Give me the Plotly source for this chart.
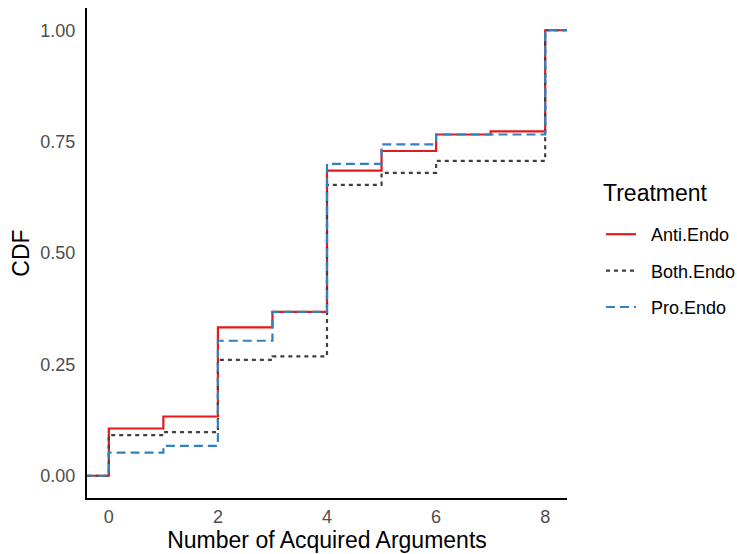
import plotly.graph_objects as go

# Empirical CDF of the number of acquired arguments, per treatment
arguments = [0, 1, 2, 3, 4, 5, 6, 7, 8]
treatments = ["Anti.Endo", "Both.Endo", "Pro.Endo"]
anti_endo = [0.106, 0.133, 0.333, 0.368, 0.685, 0.729, 0.766, 0.773, 1.0]
both_endo = [0.091, 0.098, 0.260, 0.268, 0.653, 0.680, 0.707, 0.707, 1.0]
pro_endo = [0.052, 0.067, 0.303, 0.368, 0.700, 0.744, 0.766, 0.766, 1.0]
y_ticks = [0.0, 0.25, 0.5, 0.75, 1.0]
x_ticks = [0, 2, 4, 6, 8]

series = {"Anti.Endo": anti_endo, "Both.Endo": both_endo, "Pro.Endo": pro_endo}
styles = {
    "Anti.Endo": dict(color="#E41A1C", dash="solid"),
    "Both.Endo": dict(color="#404040", dash="4px,4px"),
    "Pro.Endo": dict(color="#3182BD", dash="9px,5px"),
}

FONT = "Liberation Sans, Arial, Helvetica, sans-serif"
PAD = "\u00a0\u00a0"  # small gap between legend key and label

fig = go.Figure()
for name in treatments:
    vals = series[name]
    # pad the step function below the first and beyond the last value
    xs = [arguments[0] - 2] + arguments + [arguments[-1] + 2]
    ys = [0.0] + vals + [1.0]
    fig.add_trace(go.Scatter(
        x=xs, y=ys, name=PAD + name, mode="lines", line_shape="hv",
        legendgroup=name,
        line=dict(color=styles[name]["color"], dash=styles[name]["dash"], width=2.2),
    ))

fig.update_layout(
    width=737, height=554,
    margin=dict(l=87, r=170, t=8, b=56, autoexpand=False),
    paper_bgcolor="white", plot_bgcolor="white",
    font=dict(family=FONT, size=18, color="#4D4D4D"),
    showlegend=True,
    legend=dict(
        font=dict(size=18, color="black", family=FONT),
        x=1.0708, xanchor="left", y=0.5755, yanchor="top",
        tracegroupgap=10, bgcolor="rgba(0,0,0,0)", borderwidth=0,
    ),
    annotations=[dict(
        text="Treatment", xref="paper", yref="paper", x=1.0708, y=0.6224,
        xanchor="left", yanchor="middle", showarrow=False,
        font=dict(size=23, color="black", family=FONT),
    )],
)

fig.update_xaxes(
    range=[-0.4, 8.4], tickvals=x_ticks, ticks="", ticklen=0, showgrid=False,
    zeroline=False, showline=True, linecolor="black", linewidth=2,
    tickfont=dict(size=18, color="#4D4D4D"), ticklabelstandoff=1,
    title=dict(text="Number of Acquired Arguments", font=dict(size=23, color="black"), standoff=6),
)
fig.update_yaxes(
    range=[-0.05, 1.05], tickvals=y_ticks, tickformat=".2f", ticks="", ticklen=0,
    showgrid=False, zeroline=False, showline=True, linecolor="black", linewidth=2,
    tickfont=dict(size=18, color="#4D4D4D"), ticklabelstandoff=6,
    title=dict(text="CDF", font=dict(size=23, color="black"), standoff=4),
)

fig.write_html("out.html")
